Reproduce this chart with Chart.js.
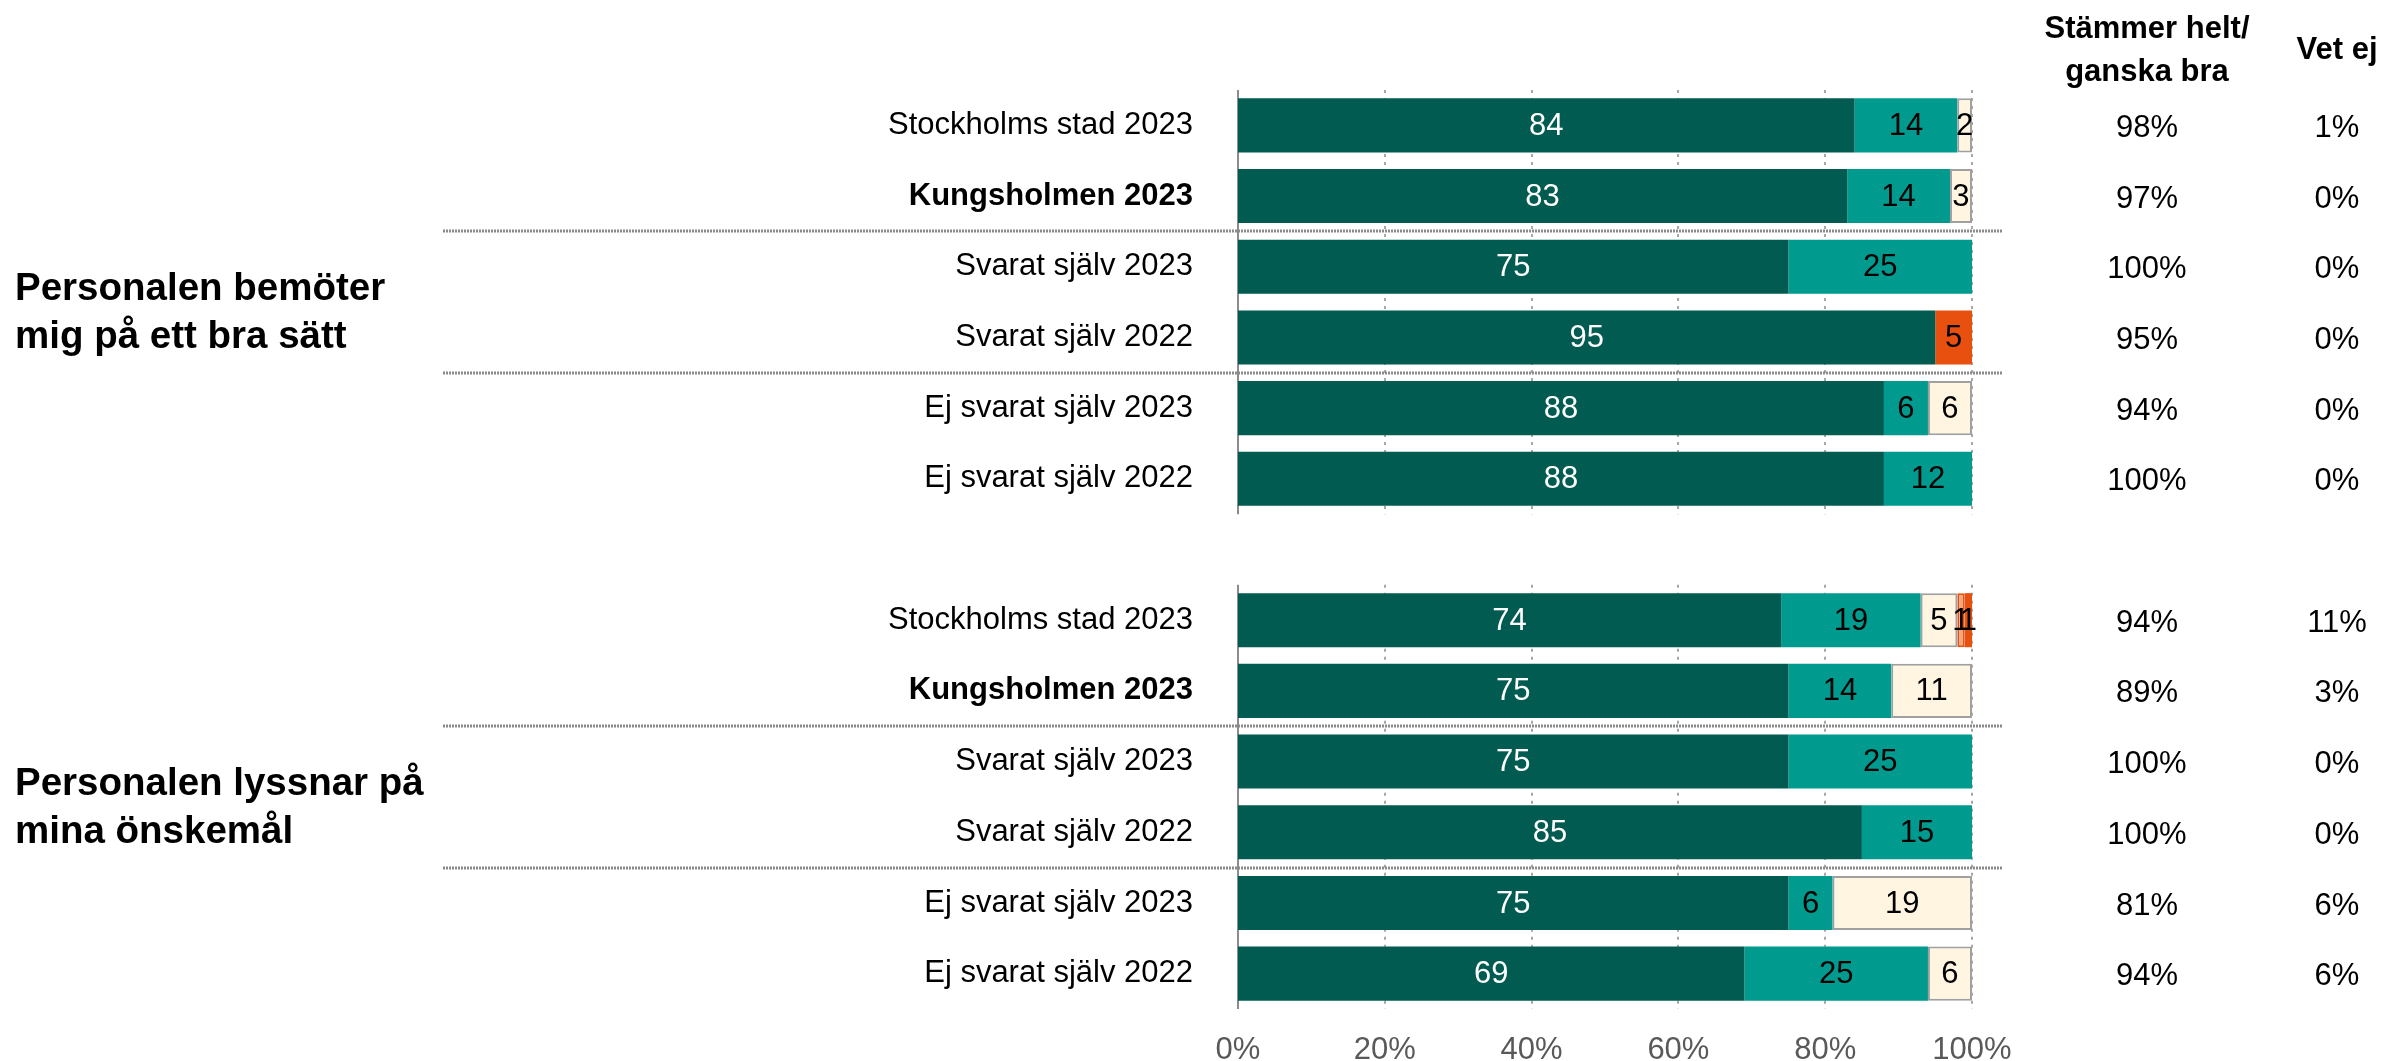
<!DOCTYPE html>
<html>
<head>
<meta charset="utf-8">
<script src="https://cdn.jsdelivr.net/npm/chart.js@4"></script>
<style>
  body { margin: 0; background: #fff; overflow: hidden; }
</style>
</head>
<body>
<canvas id="chart" width="2397" height="1061"></canvas>
<script>
// kategorier (tom rad mellan de två frågorna)
var categories = [
    "Stockholms stad 2023", "Kungsholmen 2023", "Svarat själv 2023", "Svarat själv 2022",
    "Ej svarat själv 2023", "Ej svarat själv 2022", "",
    "Stockholms stad 2023", "Kungsholmen 2023", "Svarat själv 2023", "Svarat själv 2022",
    "Ej svarat själv 2023", "Ej svarat själv 2022"
];
var boldCategories = ["Kungsholmen 2023"];

// andelar i procent per svarsalternativ
var helt         = [84, 83, 75, 95, 88, 88, null, 74, 75, 75, 85, 75, 69];
var ganskaBra    = [14, 14, 25, null, 6, 12, null, 19, 14, 25, 15, 6, 25];
var ganskaDaligt = [2, 3, null, null, 6, null, null, 5, 11, null, null, 19, 6];
var daligt       = [null, null, null, null, null, null, null, 1, null, null, null, null, null];
var inteAlls     = [null, null, null, 5, null, null, null, 1, null, null, null, null, null];

// kolumnerna till höger
var heltGanskaBra = ["98%", "97%", "100%", "95%", "94%", "100%", null, "94%", "89%", "100%", "100%", "81%", "94%"];
var vetEj         = ["1%", "0%", "0%", "0%", "0%", "0%", null, "11%", "3%", "0%", "0%", "6%", "6%"];

var xTicks = [0, 20, 40, 60, 80, 100];
var groupTitles = [["Personalen bemöter", "mig på ett bra sätt"], ["Personalen lyssnar på", "mina önskemål"]];
var groupRanges = [[0, 5], [7, 12]];
var dividerAfter = [1, 3, 8, 10];

var FONT = "'Liberation Sans', Arial, sans-serif";

var extras = {
    id: "extras",
    beforeDatasetsDraw: function (chart) {
        var ctx = chart.ctx, xs = chart.scales.x, ys = chart.scales.y;
        var half = (ys.getPixelForValue(1) - ys.getPixelForValue(0)) / 2;
        ctx.save();
        groupRanges.forEach(function (r) {
            var top = ys.getPixelForValue(r[0]) - half;
            var bottom = ys.getPixelForValue(r[1]) + half;
            ctx.strokeStyle = "#a8a8a8";
            ctx.lineWidth = 2;
            ctx.setLineDash([3, 5]);
            xTicks.slice(1).forEach(function (t) {
                var x = Math.round(xs.getPixelForValue(t));
                ctx.beginPath();
                ctx.moveTo(x, top);
                ctx.lineTo(x, bottom);
                ctx.stroke();
            });
            ctx.setLineDash([]);
            ctx.strokeStyle = "#8c8c8c";
            var x0 = xs.getPixelForValue(0);
            ctx.beginPath();
            ctx.moveTo(x0, top);
            ctx.lineTo(x0, bottom);
            ctx.stroke();
        });
        ctx.restore();
    },
    afterDatasetsDraw: function (chart) {
        var ctx = chart.ctx, ys = chart.scales.y;
        ctx.save();

        // värden i staplarna
        ctx.font = "31px " + FONT;
        ctx.textAlign = "center";
        ctx.textBaseline = "middle";
        chart.data.datasets.forEach(function (ds, i) {
            var meta = chart.getDatasetMeta(i);
            meta.data.forEach(function (bar, j) {
                var v = ds.data[j];
                if (v == null) return;
                var p = bar.getProps(["x", "y", "base"], true);
                ctx.fillStyle = i === 0 ? "#ffffff" : "#000000";
                ctx.fillText(v, (p.x + p.base) / 2, p.y + 1);
            });
        });

        // avdelare
        var half = (ys.getPixelForValue(1) - ys.getPixelForValue(0)) / 2;
        ctx.strokeStyle = "#8a8a8a";
        ctx.lineWidth = 3;
        ctx.setLineDash([2, 1]);
        dividerAfter.forEach(function (i) {
            var y = Math.round(ys.getPixelForValue(i) + half);
            ctx.beginPath();
            ctx.moveTo(443, y);
            ctx.lineTo(2003, y);
            ctx.stroke();
        });
        ctx.setLineDash([]);

        // frågetexter
        ctx.fillStyle = "#000";
        ctx.textAlign = "left";
        ctx.textBaseline = "alphabetic";
        ctx.font = "bold 38.5px " + FONT;
        groupRanges.forEach(function (r, g) {
            var c = (ys.getPixelForValue(r[0]) + ys.getPixelForValue(r[1])) / 2;
            ctx.fillText(groupTitles[g][0], 15, c - 2);
            ctx.fillText(groupTitles[g][1], 15, c + 46);
        });

        // rubriker till höger
        ctx.textAlign = "center";
        ctx.textBaseline = "middle";
        ctx.font = "bold 31px " + FONT;
        ctx.fillText("Stämmer helt/", 2147, 29);
        ctx.fillText("ganska bra", 2147, 72);
        ctx.fillText("Vet ej", 2337, 50);

        ctx.font = "31px " + FONT;
        categories.forEach(function (c, j) {
            var y = ys.getPixelForValue(j) + 3;
            if (heltGanskaBra[j]) ctx.fillText(heltGanskaBra[j], 2147, y);
            if (vetEj[j]) ctx.fillText(vetEj[j], 2337, y);
        });
        ctx.restore();
    }
};

function bar(label, data, color, border, width) {
    return {
        label: label,
        data: data,
        backgroundColor: color,
        borderColor: border || color,
        borderWidth: width || 0,
        borderSkipped: false,
        barPercentage: 0.765,
        categoryPercentage: 1
    };
}

var ctx = document.getElementById("chart").getContext("2d");
new Chart(ctx, {
    type: "bar",
    data: {
        labels: categories,
        datasets: [
            bar("Stämmer helt", helt, "#025b50"),
            bar("Stämmer ganska bra", ganskaBra, "#009a8f"),
            bar("Stämmer ganska dåligt", ganskaDaligt, "#fff5e1", "#a0a0a0", 2),
            bar("Stämmer dåligt", daligt, "#f6a47c", "#e8500f", 2),
            bar("Stämmer inte alls", inteAlls, "#e8500f")
        ]
    },
    options: {
        indexAxis: "y",
        responsive: false,
        animation: false,
        devicePixelRatio: 1,
        layout: { autoPadding: false, padding: { top: 90, right: 425, left: 0, bottom: 0 } },
        plugins: { legend: { display: false }, tooltip: { enabled: false } },
        scales: {
            x: {
                stacked: true,
                min: 0,
                max: 100,
                afterBuildTicks: function (scale) {
                    scale.ticks = xTicks.map(function (v) { return { value: v }; });
                },
                afterFit: function (scale) {
                    scale.height = 52;
                    scale.paddingLeft = 0;
                    scale.paddingRight = 0;
                },
                grid: { display: false, drawTicks: false },
                border: { display: false },
                ticks: {
                    padding: 23,
                    color: "#595959",
                    font: { family: FONT, size: 31 },
                    callback: function (v) { return v + "%"; }
                }
            },
            y: {
                stacked: true,
                afterFit: function (scale) {
                    // tick-padding räknas annars in i marginalen nedtill
                    scale.width = 1238;
                    scale.paddingTop = 0;
                    scale.paddingBottom = 0;
                },
                grid: { display: false, drawTicks: false },
                border: { display: false },
                ticks: {
                    padding: 45,
                    color: "#000",
                    autoSkip: false,
                    font: function (c) {
                        var bold = boldCategories.indexOf(categories[c.index]) >= 0;
                        return { family: FONT, size: 31, weight: bold ? "bold" : "normal" };
                    }
                }
            }
        }
    },
    plugins: [extras]
});
</script>
</body>
</html>
